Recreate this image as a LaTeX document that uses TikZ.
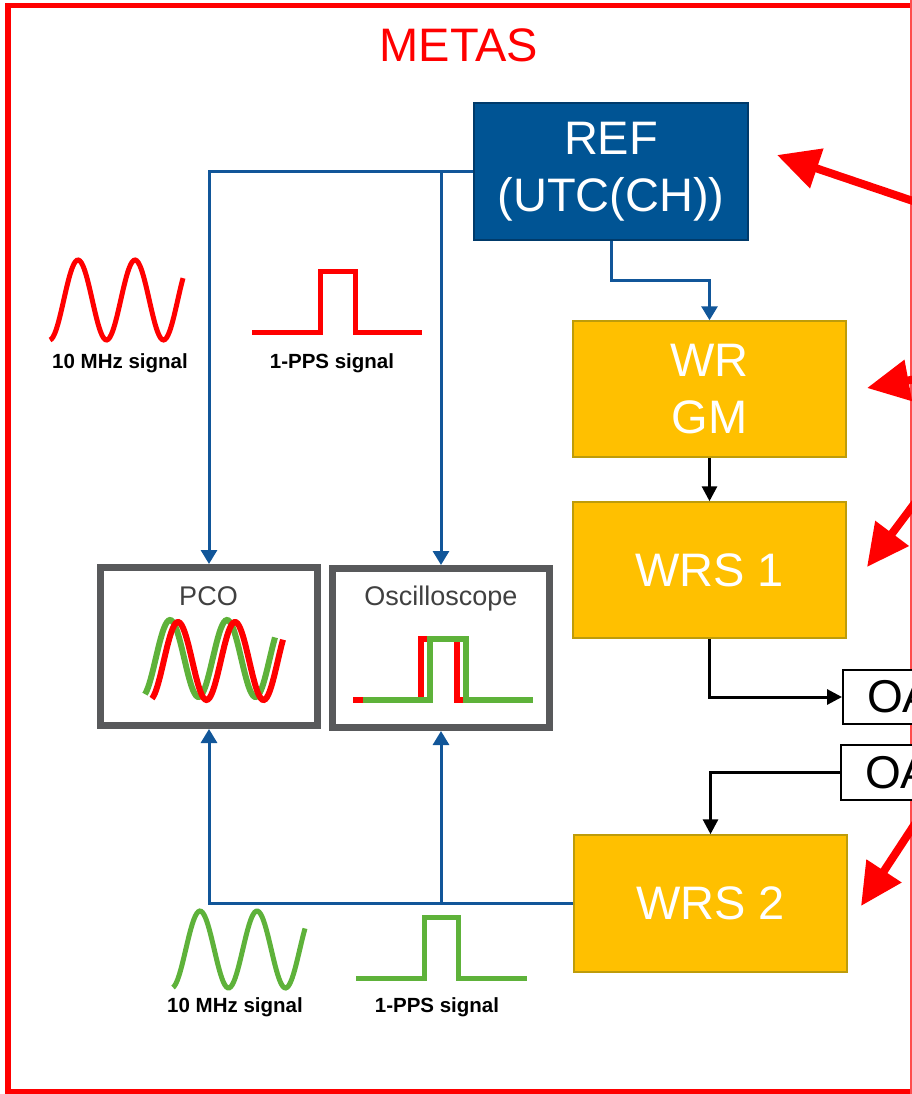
\documentclass[tikz,border=0pt]{standalone}
\usepackage{fontspec}
\setmainfont{Liberation Sans}
\usetikzlibrary{arrows.meta}
\definecolor{lineblue}{RGB}{17,86,153}
\definecolor{refblue}{RGB}{0,84,148}
\definecolor{refborder}{RGB}{0,58,106}
\definecolor{gold}{RGB}{255,192,0}
\definecolor{goldborder}{RGB}{190,156,10}
\definecolor{boxgray}{RGB}{88,89,91}
\definecolor{txtgray}{RGB}{64,64,64}
\definecolor{sigred}{RGB}{255,0,0}
\definecolor{siggreen}{RGB}{94,178,58}
\newcommand\bigtxt{\fontsize{47}{57}\selectfont}
\begin{document}
\begin{tikzpicture}[x=1pt,y=-1pt,
  refbox/.style={draw=refborder, fill=refblue, line width=1.5, minimum width=274, minimum height=137, text=white, font=\bigtxt, align=center, inner sep=0},
  wrbox/.style={draw=goldborder, fill=gold, line width=1.5, minimum width=273, minimum height=136, text=white, font=\bigtxt, align=center, inner sep=0},
  instbox/.style={draw=boxgray, line width=7, minimum width=217, minimum height=158, inner sep=0},
  oabox/.style={draw=black, line width=2, fill=white, minimum height=54, inner xsep=24, anchor=west, font=\fontsize{46}{50}\selectfont, text=black},
  blueline/.style={draw=lineblue, line width=3, -{Triangle[length=14pt,width=16pt]}},
  blackline/.style={draw=black, line width=3, -{Triangle[length=15pt,width=15pt]}},
  redarrow/.style={draw=sigred, line width=8, -{Triangle[length=42pt,width=40pt]}},
  wave/.style={line width=5, line join=miter},
  wavebig/.style={line width=6, line join=miter},
  siglabel/.style={font=\bfseries\fontsize{20.5}{24}\selectfont, anchor=base, text=black},
  instlabel/.style={font=\fontsize{27}{30}\selectfont, anchor=base, text=txtgray}
]
\useasboundingbox (0,0) rectangle (912,1094);
\clip (0,0) rectangle (912,1094);

% outer frame
\draw[sigred, line width=5.5] (8,5.5) rectangle (1000,1092);
\draw[sigred!70, line width=1.2] (911,0) -- (911,1094);
\node[text=sigred, font=\fontsize{47}{50}\selectfont] (metas) at (459,45) {METAS};

% main nodes
\node[refbox] (ref) at (611,171.5) {REF\\(UTC(CH))};
\node[wrbox] (wrgm) at (709.5,389) {WR\\GM};
\node[wrbox] (wrs1) at (709.5,570) {WRS 1};
\node[wrbox, minimum height=137] (wrs2) at (710.5,903.5) {WRS 2};
\node[oabox] (oa1) at (842,697) {OA};
\node[oabox, minimum height=55] (oa2) at (840,772.5) {OA};

% instruments
\node[instbox] (pco) at (209,646.5) {};
\node[instbox, minimum height=159] (osc) at (441,648) {};
\node[instlabel] (pcolab) at (208.5,605) {PCO};
\node[instlabel] (osclab) at (441,605) {Oscilloscope};

% blue connectors
\draw[blueline] (ref.west) -| (pco.north);
\draw[blueline] (ref.west -| osc.north) -- (osc.north);
\draw[blueline] (ref.south) -- ++(0,40) -| (wrgm.north);
\draw[blueline] (wrs2.west) -| (pco.south);
\draw[blueline] (wrs2.west -| osc.south) -- (osc.south);

% black connectors
\draw[blackline] (wrgm.south) -- (wrs1.north);
\draw[blackline] (wrs1.south) |- (oa1.west);
\draw[blackline] (oa2.west) -| (wrs2.north);

% red arrows from outside
\coordinate (r1) at (975,222);
\coordinate (r2) at (965,370);
\coordinate (r3) at (941,468);
\coordinate (r4) at (945,778);
\coordinate (t1) at (777,155);
\coordinate (t2) at (867,388);
\coordinate (t3) at (867,567);
\coordinate (t4) at (861,906);
\draw[redarrow] (r1) -- (t1);
\draw[redarrow] (r2) -- (t2);
\draw[redarrow] (r3) -- (t3);
\draw[redarrow] (r4) -- (t4);

% reference signals (red)
\draw[sigred, wave] plot[domain=50:183, samples=90, smooth] (\x, {300-40*sin(6.31579*(\x-63.75))});
\draw[sigred, wave] (252,332) -- (320,332) -- (320,271) -- (355,271) -- (355,332) -- (422,332);
\node[siglabel] (l1) at (120,368) {10 MHz signal};
\node[siglabel] (l2) at (332,368) {1-PPS signal};

% WRS2 signals (green)
\draw[siggreen, wave] plot[domain=173:305, samples=90, smooth] (\x, {949.5-38.5*sin(6.31579*(\x-185.75))});
\draw[siggreen, wave] (356,978) -- (424,978) -- (424,917) -- (458,917) -- (458,978) -- (527,978);
\node[siglabel] (l3) at (235,1012) {10 MHz signal};
\node[siglabel] (l4) at (437,1012) {1-PPS signal};

% PCO display
\draw[siggreen, wavebig] plot[domain=145:275, samples=90, smooth] (\x, {658.5-38.5*sin(6.31579*(\x-155.75))});
\draw[sigred, wavebig] plot[domain=152:283, samples=90, smooth] (\x, {661-39*sin(6.31579*(\x-163.75))});

% Oscilloscope display
\draw[sigred, wavebig] (353,700) -- (421,700) -- (421,639) -- (457,639) -- (457,700) -- (523,700);
\draw[siggreen, wavebig] (363,700) -- (430,700) -- (430,639) -- (466,639) -- (466,700) -- (533,700);
\end{tikzpicture}
\end{document}
